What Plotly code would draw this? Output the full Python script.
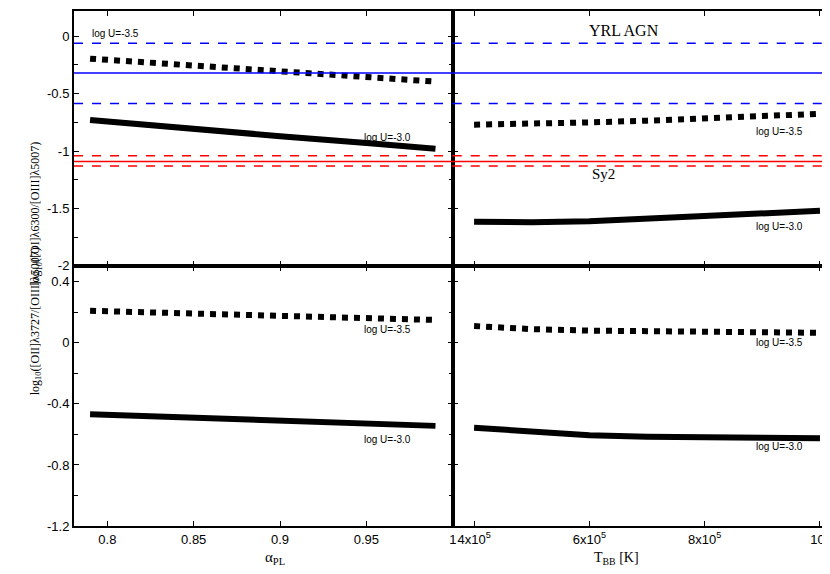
import plotly.graph_objects as go

alpha = [0.79, 0.85, 0.90, 0.95, 0.99]
tbb = [4.0e5, 5.0e5, 6.0e5, 7.0e5, 8.0e5, 9.0e5, 1.0e6]

oi_alpha_u35 = [-0.195, -0.255, -0.305, -0.355, -0.395]
oi_alpha_u30 = [-0.73, -0.81, -0.87, -0.93, -0.98]
oi_tbb_u35 = [-0.77, -0.765, -0.75, -0.735, -0.715, -0.695, -0.675]
oi_tbb_u30 = [-1.615, -1.62, -1.61, -1.59, -1.565, -1.54, -1.52]

oii_alpha_u35 = [0.21, 0.19, 0.175, 0.16, 0.15]
oii_alpha_u30 = [-0.468, -0.49, -0.51, -0.53, -0.544]
oii_tbb_u35 = [0.11, 0.09, 0.08, 0.075, 0.07, 0.068, 0.066]
oii_tbb_u30 = [-0.556, -0.585, -0.605, -0.615, -0.62, -0.623, -0.625]

yrl_mean, yrl_lo, yrl_hi = -0.32, -0.585, -0.06
sy2_mean, sy2_lo, sy2_hi = -1.09, -1.13, -1.04

tbb_ticks = [4e5, 6e5, 8e5, 1e6]
tbb_ticktext = ["4x10<sup>5</sup>", "6x10<sup>5</sup>", "8x10<sup>5</sup>", "10<sup>6</sup>"]

fig = go.Figure()
BL = dict(color="black", width=6)
DT = dict(color="black", width=6, dash="dot")

def add(x, y, xa, ya, line):
    fig.add_trace(go.Scatter(x=x, y=y, xaxis=xa, yaxis=ya, mode="lines", line=line, showlegend=False))

add(alpha, oi_alpha_u35, "x", "y", DT)
add(alpha, oi_alpha_u30, "x", "y", BL)
add(tbb, oi_tbb_u35, "x2", "y2", DT)
add(tbb, oi_tbb_u30, "x2", "y2", BL)
add(alpha, oii_alpha_u35, "x3", "y3", DT)
add(alpha, oii_alpha_u30, "x3", "y3", BL)
add(tbb, oii_tbb_u35, "x4", "y4", DT)
add(tbb, oii_tbb_u30, "x4", "y4", BL)

for xr, ya in [("x", "y"), ("x2", "y2")]:
    for v, c, d in [(yrl_mean, "blue", "solid"), (yrl_lo, "blue", "dash"), (yrl_hi, "blue", "dash"),
                    (sy2_mean, "red", "solid"), (sy2_lo, "red", "dash"), (sy2_hi, "red", "dash")]:
        fig.add_shape(type="line", xref=xr + " domain", yref=ya, x0=0, x1=1, y0=v, y1=v,
                      line=dict(color=c, width=1.5, dash=d))

sans = dict(family="Liberation Sans", size=10, color="black")
def lab(x, y, xr, yr, t):
    fig.add_annotation(x=x, y=y, xref=xr, yref=yr, text=t, showarrow=False, font=sans)

lab(0.805, 0.02, "x", "y", "log U=-3.5")
lab(0.962, -0.88, "x", "y", "log U=-3.0")
lab(9.3e5, -0.83, "x2", "y2", "log U=-3.5")
lab(9.3e5, -1.66, "x2", "y2", "log U=-3.0")
lab(0.962, 0.09, "x3", "y3", "log U=-3.5")
lab(0.962, -0.63, "x3", "y3", "log U=-3.0")
lab(9.3e5, 0.0, "x4", "y4", "log U=-3.5")
lab(9.3e5, -0.68, "x4", "y4", "log U=-3.0")
fig.add_annotation(x=6.6e5, y=0.05, xref="x2", yref="y2", text="YRL AGN", showarrow=False,
                   font=dict(family="Liberation Serif", size=16, color="black"))
fig.add_annotation(x=6.25e5, y=-1.2, xref="x2", yref="y2", text="Sy2", showarrow=False,
                   font=dict(family="Liberation Serif", size=15, color="black"))

serif = dict(family="Liberation Serif", size=12, color="black")
fig.add_annotation(x=-58, xref="paper", xshift=0, y=0.75, yref="paper", text="log<sub>10</sub>([OI]λ6300/[OIII]λ5007)",
                   showarrow=False, textangle=-90, font=serif) if False else None
for yy, t in [(0.75, "log<sub>10</sub>([OI]λ6300/[OIII]λ5007)"), (0.25, "log<sub>10</sub>([OII]λ3727/[OIII]λ5007)")]:
    fig.add_annotation(x=0, y=yy, xref="paper", yref="paper", xshift=-48, text=t, showarrow=False,
                       textangle=-90, font=serif)
fig.add_annotation(x=0.25, y=0, xref="paper", yref="paper", yshift=-43, text="α<sub>PL</sub>",
                   showarrow=False, font=dict(family="Liberation Serif", size=15, color="black"))
fig.add_annotation(x=0.75, y=0, xref="paper", yref="paper", yshift=-43, text="T<sub>BB</sub> [K]",
                   showarrow=False, font=dict(family="Liberation Serif", size=14, color="black"))

ax = dict(showline=True, linecolor="black", linewidth=2, mirror="ticks", ticks="inside",
          ticklen=5, tickcolor="black", showgrid=False, zeroline=False, automargin=False,
          tickfont=dict(family="Liberation Sans", size=13, color="black"))

fig.update_layout(
    width=830, height=574, plot_bgcolor="white", paper_bgcolor="white",
    margin=dict(l=66, r=8, t=3, b=56),
    xaxis=dict(ax, domain=[0, 0.501], anchor="y", range=[0.7807, 1.0], showticklabels=False,
               tickvals=[0.8, 0.85, 0.9, 0.95]),
    xaxis2=dict(ax, domain=[0.501, 1], anchor="y2", range=[3.63e5, 1.0174e6], showticklabels=False,
                tickvals=tbb_ticks),
    xaxis3=dict(ax, domain=[0, 0.501], anchor="y3", range=[0.7807, 1.0],
                tickvals=[0.8, 0.85, 0.9, 0.95, 1.0], ticktext=["0.8", "0.85", "0.9", "0.95", "1"]),
    xaxis4=dict(ax, domain=[0.501, 1], anchor="y4", range=[3.63e5, 1.0174e6],
                tickvals=tbb_ticks, ticktext=tbb_ticktext),
    yaxis=dict(ax, domain=[0.505, 1], anchor="x", range=[-2.0, 0.22],
               tickvals=[0, -0.5, -1, -1.5, -2], ticktext=["0", "-0.5", "-1", "-1.5", "-2"],
               minor=dict(ticks="inside", dtick=0.25, ticklen=4, tickcolor="black")),
    yaxis2=dict(ax, domain=[0.505, 1], anchor="x2", range=[-2.0, 0.22], showticklabels=False,
                tickvals=[0, -0.5, -1, -1.5, -2]),
    yaxis3=dict(ax, domain=[0, 0.505], anchor="x3", range=[-1.2, 0.504],
                tickvals=[0.4, 0, -0.4, -0.8, -1.2], ticktext=["0.4", "0", "-0.4", "-0.8", "-1.2"],
                minor=dict(ticks="inside", dtick=0.2, ticklen=4, tickcolor="black")),
    yaxis4=dict(ax, domain=[0, 0.505], anchor="x4", range=[-1.2, 0.504], showticklabels=False,
                tickvals=[0.4, 0, -0.4, -0.8, -1.2]),
)
fig.write_html("out.html")
